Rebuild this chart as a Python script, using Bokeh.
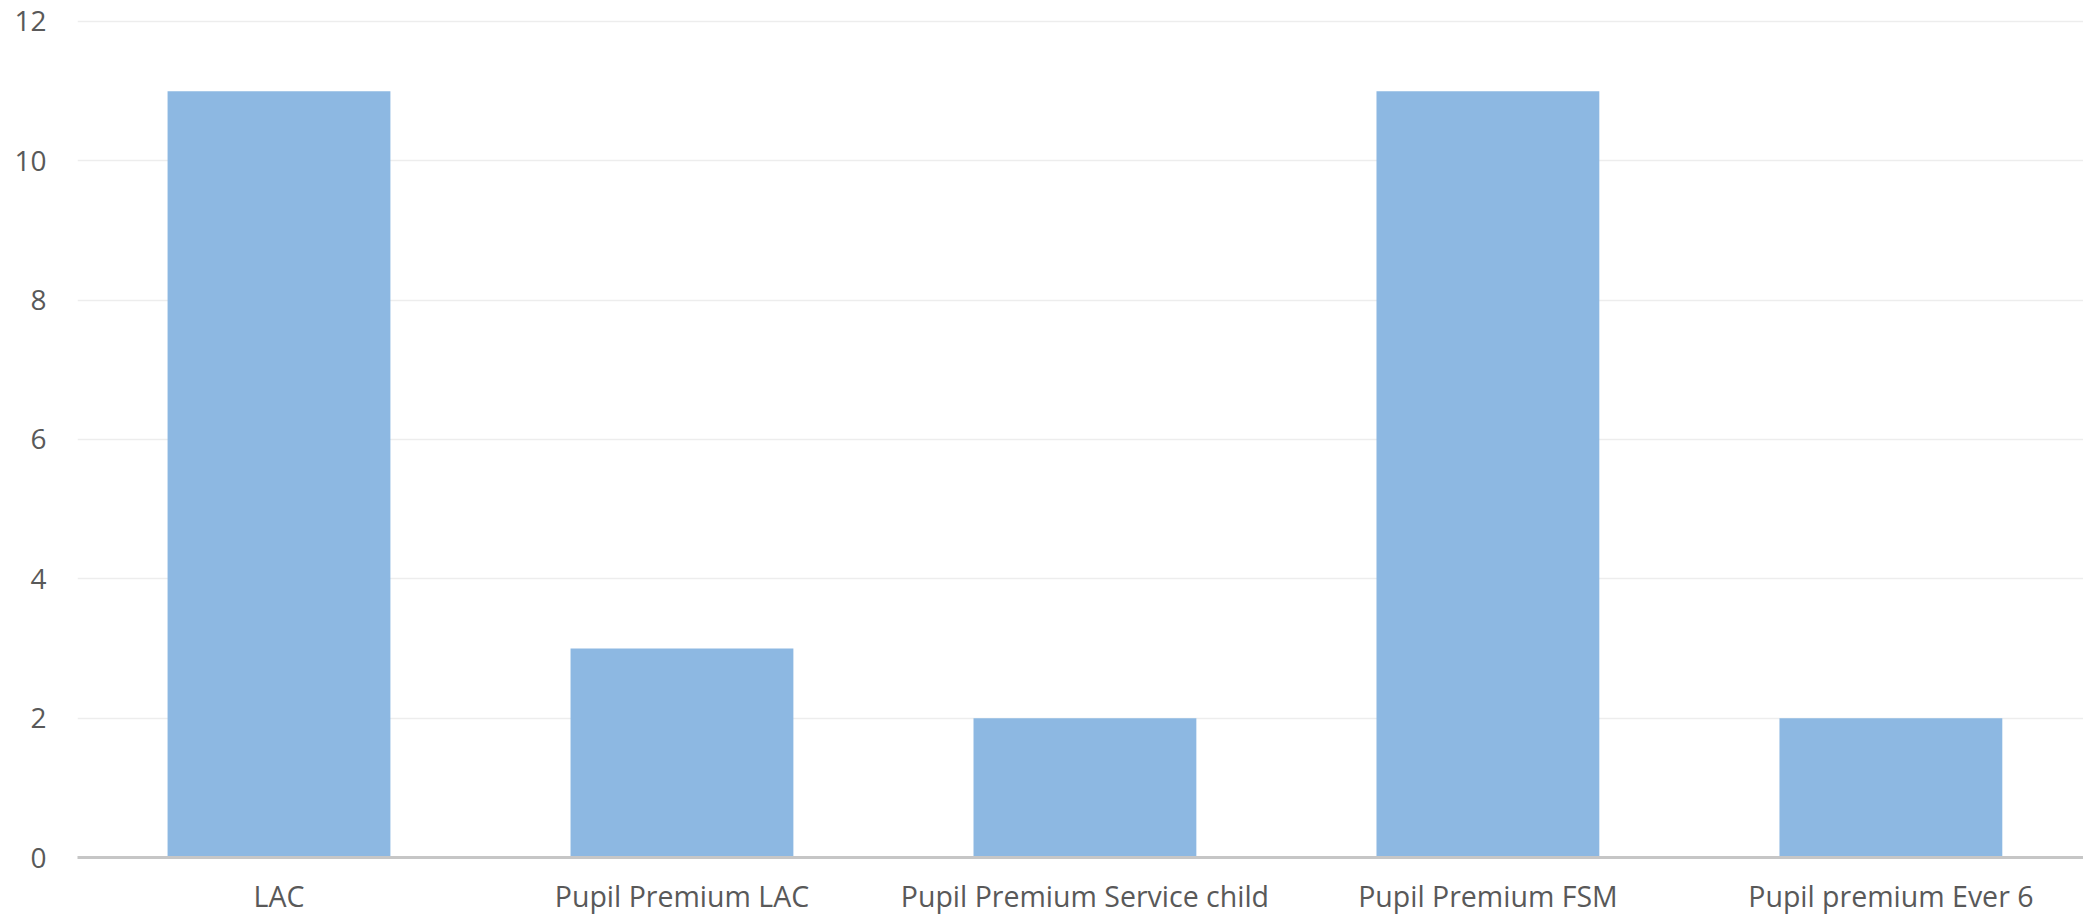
from bokeh.plotting import figure
from bokeh.models import Range1d, FixedTicker, ColumnDataSource
from bokeh.embed import file_html
from bokeh.resources import INLINE

categories = ["LAC", "Pupil Premium LAC", "Pupil Premium Service child",
              "Pupil Premium FSM", "Pupil premium Ever 6"]
values = [11, 3, 2, 11, 2]
y_ticks = [0, 2, 4, 6, 8, 10, 12]

positions = list(range(len(categories)))
src = ColumnDataSource(dict(x=positions, top=values))

p = figure(width=2083, height=917, output_backend="svg", toolbar_location=None,
           x_range=Range1d(-0.5, 4.478), y_range=Range1d(0, 12.301),
           min_border_left=77, min_border_right=0, min_border_top=0,
           min_border_bottom=59)
p.outline_line_color = None
p.background_fill_color = "white"
p.border_fill_color = "white"

p.vbar(x="x", top="top", bottom=0, width=0.553, source=src,
       fill_color="#8DB8E2", line_color=None)

font = "Open Sans"
# x axis
p.xaxis.ticker = FixedTicker(ticks=positions)
p.xaxis.major_label_overrides = {i: c for i, c in enumerate(categories)}
p.xaxis.axis_label = None
p.xaxis.axis_line_color = "#C6C6C6"
p.xaxis.axis_line_width = 3
p.xaxis.major_tick_line_color = None
p.xaxis.minor_tick_line_color = None
p.xaxis.major_label_text_font = font
p.xaxis.major_label_text_font_size = "28.5px"
p.xaxis.major_label_text_color = "#595959"
p.xaxis.major_label_standoff = 13
p.xgrid.grid_line_color = None

# y axis
p.yaxis.ticker = FixedTicker(ticks=y_ticks)
p.yaxis.axis_label = None
p.yaxis.axis_line_color = None
p.yaxis.major_tick_line_color = None
p.yaxis.minor_tick_line_color = None
p.yaxis.major_label_text_font = font
p.yaxis.major_label_text_font_size = "28px"
p.yaxis.major_label_text_color = "#595959"
p.yaxis.major_label_standoff = 25
p.ygrid.grid_line_color = "#EDEDED"
p.ygrid.grid_line_width = 1.5

open("out.html", "w").write(file_html(p, INLINE))
